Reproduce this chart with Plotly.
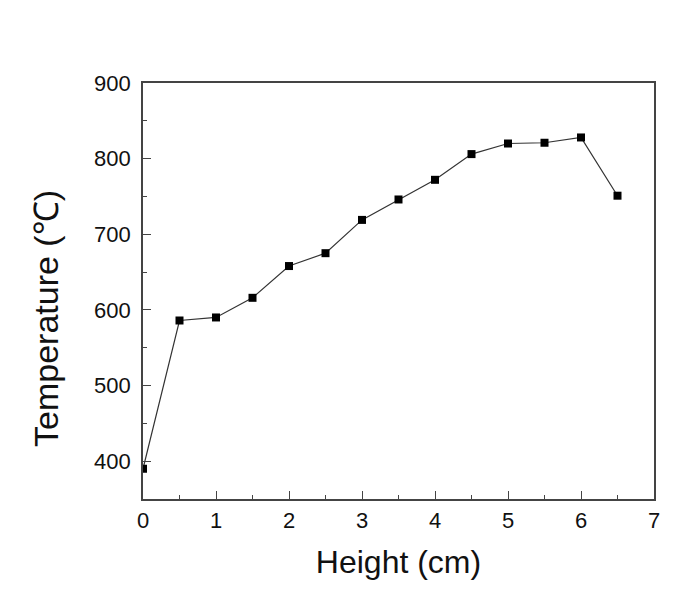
import plotly.graph_objects as go

height_cm = [0, 0.5, 1, 1.5, 2, 2.5, 3, 3.5, 4, 4.5, 5, 5.5, 6, 6.5]
temperature_c = [390, 586, 590, 616, 658, 675, 719, 746, 772, 806, 820, 821, 828, 751]

x_ticks = [0, 1, 2, 3, 4, 5, 6, 7]
y_ticks = [400, 500, 600, 700, 800, 900]

fig = go.Figure()
fig.add_trace(go.Scatter(
    x=height_cm, y=temperature_c, mode="lines+markers",
    line=dict(color="#333333", width=1.2),
    marker=dict(symbol="square", size=8, color="black"),
    showlegend=False,
))

font = dict(family="Liberation Sans, Arial, sans-serif", color="#111111")
axis_common = dict(
    showline=True, linecolor="#444444", linewidth=1.6, mirror=True,
    showgrid=False, zeroline=False,
    ticks="inside", ticklen=8, tickwidth=1.3, tickcolor="#444444",
    tickfont=dict(size=22, **font),
)
fig.update_xaxes(
    range=[0, 7], tickvals=x_ticks, ticktext=[str(v) for v in x_ticks],
    minor=dict(ticks="inside", ticklen=4, dtick=0.5, tickcolor="#444444", tickwidth=1.2),
    title=dict(text="Height (cm)", font=dict(size=32, **font), standoff=18),
    ticklabelstandoff=1,
    **axis_common,
)
fig.update_yaxes(
    range=[350, 900], tickvals=y_ticks, ticktext=[str(v) for v in y_ticks],
    minor=dict(ticks="inside", ticklen=4, dtick=50, tickcolor="#444444", tickwidth=1.2),
    ticklabelstandoff=6,
    **axis_common,
)
fig.add_annotation(
    text="Temperature (℃)", textangle=-90,
    xref="paper", yref="paper", x=-0.19, y=0.435,
    xanchor="center", yanchor="middle", showarrow=False,
    font=dict(size=34, **font),
)
fig.update_layout(
    width=685, height=609,
    margin=dict(l=135, r=39, t=75, b=118),
    plot_bgcolor="white", paper_bgcolor="white",
    font=font,
)
fig.write_html("out.html")
